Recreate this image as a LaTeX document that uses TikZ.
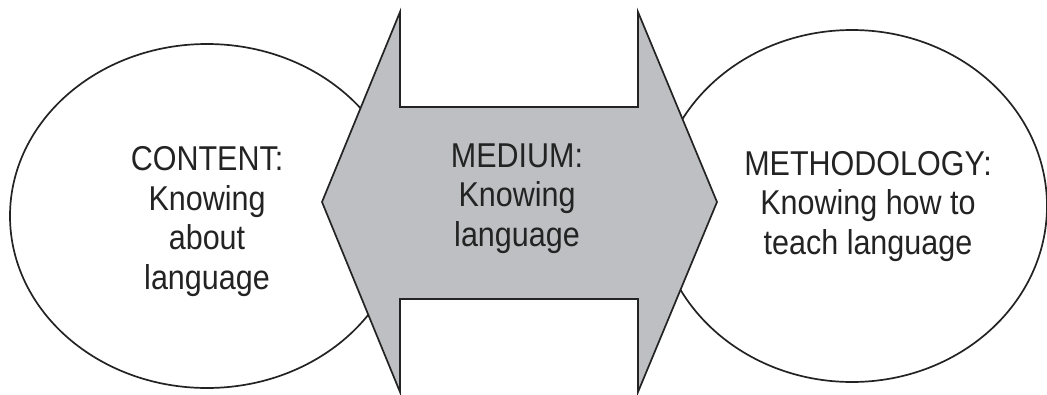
\documentclass[tikz,border=0pt]{standalone}
\usepackage{fontspec}
\setmainfont{Liberation Sans}
\usetikzlibrary{shapes.geometric}
\definecolor{arrowgray}{RGB}{190,191,195}
\definecolor{ink}{RGB}{35,35,35}
\newcommand{\tallstack}[1]{\scalebox{1}[1.13]{\fontsize{30.5}{35.2}\selectfont\begin{tabular}{@{}c@{}}#1\end{tabular}}}
\tikzset{
  circ/.style={ellipse, draw=ink, line width=1.7pt, inner sep=0pt},
  lbl/.style={text=ink, inner sep=0pt},
  dblarrow/.style={fill=arrowgray, draw=ink, line width=1.7pt, line join=miter}
}
\begin{document}
\begin{tikzpicture}[x=1pt,y=-1pt]
\useasboundingbox (0,0) rectangle (1047,394);
\node[circ, minimum width=394pt, minimum height=344pt] (content) at (207,216) {};
\node[circ, minimum width=390pt, minimum height=352pt] (method) at (852,206) {};
\coordinate (lt) at (322,202);
\coordinate (rt) at (717,202);
\draw[dblarrow] (lt) -- (400,12) -- (400,107) -- (638,107) -- (638,12) -- (rt)
  -- (638,392) -- (638,299) -- (400,299) -- (400,392) -- cycle;
\node[lbl] (contentlbl) at (207,222) {\tallstack{CONTENT:\\Knowing\\about\\language}};
\node[lbl] (mediumlbl) at (517,199) {\tallstack{MEDIUM:\\Knowing\\language}};
\node[lbl] (methodlbl) at (868,207) {\tallstack{METHODOLOGY:\\Knowing how to\\teach language}};
\end{tikzpicture}
\end{document}
